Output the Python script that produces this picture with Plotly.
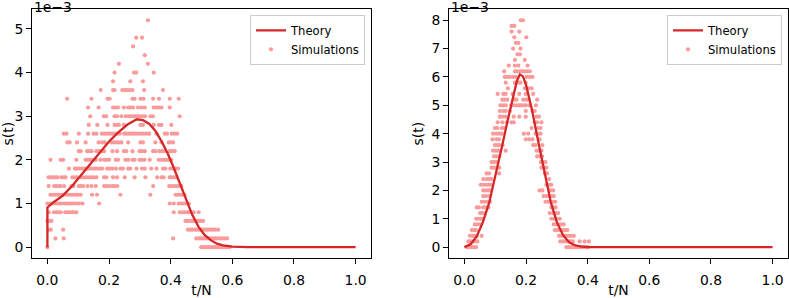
import plotly.graph_objects as go

# ---------------- data (s values in units of 1e-3) ----------------
theory1_t = [0.0, 0.0, 0.02, 0.05, 0.08, 0.11, 0.14, 0.17, 0.20, 0.23, 0.26, 0.29, 0.31, 0.33,
             0.35, 0.37, 0.39, 0.41, 0.43, 0.45, 0.47, 0.49, 0.51, 0.53, 0.55, 0.57, 0.60, 0.65, 1.0]
theory1_s = [0.0, 0.91, 1.03, 1.18, 1.40, 1.65, 1.91, 2.17, 2.42, 2.63, 2.81, 2.93, 2.91, 2.83,
             2.67, 2.43, 2.15, 1.82, 1.45, 1.08, 0.74, 0.47, 0.28, 0.16, 0.08, 0.04, 0.01, 0.0, 0.0]

theory2_t = [0.0, 0.02, 0.04, 0.06, 0.08, 0.10, 0.12, 0.14, 0.16, 0.17, 0.18, 0.19, 0.20, 0.22,
             0.24, 0.26, 0.28, 0.30, 0.32, 0.34, 0.36, 0.38, 0.40, 0.45, 1.0]
theory2_s = [0.0, 0.10, 0.38, 0.88, 1.55, 2.45, 3.45, 4.45, 5.45, 5.85, 6.09, 6.02, 5.72, 4.80,
             3.70, 2.58, 1.60, 0.88, 0.42, 0.17, 0.06, 0.02, 0.0, 0.0, 0.0]

sim1_levels = [5.2, 4.8, 4.6, 4.4, 4.2, 4.0, 3.8, 3.6, 3.4, 3.2, 3.0, 2.8, 2.6, 2.4, 2.2, 2.0,
               1.8, 1.6, 1.4, 1.2, 1.0, 0.8, 0.6, 0.4, 0.2, 0.0]
sim1_t_rows = [
    [0.326],
    [0.288, 0.307],
    [0.278],
    [0.316],
    [0.232, 0.326],
    [0.218, 0.281, 0.288, 0.345],
    [0.213, 0.269, 0.310],
    [0.173, 0.213, 0.218, 0.243, 0.251, 0.258, 0.267, 0.276, 0.314, 0.375],
    [0.064, 0.143, 0.195, 0.202, 0.276, 0.283, 0.302, 0.312, 0.343, 0.362, 0.397, 0.426],
    [0.132, 0.166, 0.213, 0.221, 0.229, 0.248, 0.262, 0.269, 0.278, 0.294, 0.305, 0.316, 0.345,
     0.354, 0.362, 0.370, 0.397],
    [0.139, 0.183, 0.191, 0.218, 0.226, 0.240, 0.254, 0.262, 0.269, 0.278, 0.285, 0.293, 0.299,
     0.308, 0.317, 0.334, 0.342, 0.429],
    [0.134, 0.162, 0.195, 0.218, 0.226, 0.232, 0.248, 0.302, 0.310, 0.345, 0.362, 0.370, 0.402],
    [0.053, 0.062, 0.102, 0.132, 0.150, 0.159, 0.177, 0.186, 0.195, 0.202, 0.210, 0.218, 0.226,
     0.235, 0.249, 0.256, 0.264, 0.270, 0.278, 0.286, 0.294, 0.302, 0.312, 0.321, 0.330, 0.354,
     0.381, 0.388, 0.404, 0.413, 0.421],
    [0.065, 0.072, 0.096, 0.124, 0.166, 0.177, 0.186, 0.208, 0.215, 0.224, 0.231, 0.240, 0.262,
     0.302, 0.310, 0.350, 0.370, 0.394, 0.400, 0.408],
    [0.102, 0.108, 0.129, 0.135, 0.143, 0.159, 0.166, 0.175, 0.184, 0.211, 0.226, 0.248, 0.256,
     0.276, 0.299, 0.307, 0.316, 0.343, 0.351, 0.364, 0.372, 0.381, 0.397, 0.404, 0.413],
    [0.010, 0.043, 0.051, 0.094, 0.124, 0.132, 0.139, 0.148, 0.157, 0.172, 0.184, 0.191, 0.200,
     0.222, 0.229, 0.253, 0.262, 0.276, 0.283, 0.299, 0.307, 0.315, 0.332, 0.361, 0.370, 0.377,
     0.386, 0.395, 0.402],
    [0.070, 0.089, 0.096, 0.105, 0.114, 0.121, 0.129, 0.137, 0.145, 0.154, 0.161, 0.170, 0.178,
     0.194, 0.202, 0.210, 0.222, 0.237, 0.245, 0.262, 0.269, 0.289, 0.307, 0.316, 0.337, 0.354,
     0.375, 0.383, 0.399, 0.408, 0.416, 0.424],
    [0.004, 0.011, 0.018, 0.026, 0.032, 0.045, 0.053, 0.059, 0.081, 0.089, 0.096, 0.110, 0.118,
     0.126, 0.135, 0.143, 0.150, 0.159, 0.184, 0.191, 0.213, 0.226, 0.251, 0.283, 0.318, 0.356,
     0.370, 0.377, 0.397, 0.402, 0.410, 0.418],
    [0.004, 0.022, 0.029, 0.037, 0.043, 0.054, 0.078, 0.085, 0.102, 0.108, 0.116, 0.130, 0.143,
     0.157, 0.184, 0.191, 0.200, 0.210, 0.218, 0.227, 0.343, 0.395, 0.402, 0.410, 0.418, 0.426,
     0.435],
    [0.010, 0.018, 0.026, 0.035, 0.043, 0.051, 0.062, 0.069, 0.076, 0.083, 0.092, 0.099, 0.108,
     0.145, 0.161, 0.237, 0.334, 0.416, 0.424, 0.431, 0.438, 0.445],
    [0.000, 0.008, 0.015, 0.021, 0.029, 0.038, 0.045, 0.054, 0.062, 0.070, 0.078, 0.085, 0.094,
     0.103, 0.114, 0.168, 0.397, 0.410, 0.426, 0.435, 0.443, 0.451, 0.459],
    [0.004, 0.021, 0.029, 0.037, 0.043, 0.058, 0.065, 0.072, 0.080, 0.086, 0.094, 0.410, 0.429,
     0.437, 0.445, 0.453, 0.459, 0.467, 0.475, 0.491],
    [0.000, 0.008, 0.013, 0.448, 0.454, 0.462, 0.469, 0.476, 0.483, 0.491, 0.497, 0.505],
    [0.004, 0.011, 0.051, 0.456, 0.464, 0.470, 0.478, 0.485, 0.492, 0.499, 0.507, 0.514, 0.521,
     0.529, 0.537, 0.545, 0.554],
    [0.026, 0.053, 0.408, 0.483, 0.491, 0.497, 0.505, 0.512, 0.519, 0.526, 0.535, 0.543, 0.550,
     0.559, 0.566, 0.575, 0.583],
    [0.000, 0.499, 0.507, 0.515, 0.523, 0.531, 0.539, 0.547, 0.555, 0.563, 0.571, 0.579, 0.587,
     0.591],
]

sim2_levels = [8.0, 7.8, 7.6, 7.4, 7.2, 7.0, 6.8, 6.6, 6.4, 6.2, 6.0, 5.8, 5.6, 5.4, 5.2, 5.0,
               4.8, 4.6, 4.4, 4.2, 4.0, 3.8, 3.6, 3.4, 3.2, 3.0, 2.8, 2.6, 2.4, 2.2, 2.0, 1.8,
               1.6, 1.4, 1.2, 1.0, 0.8, 0.6, 0.4, 0.2, 0.0]
sim2_t_rows = [
    [0.183, 0.190],
    [0.153, 0.162],
    [0.153, 0.178],
    [0.162, 0.201],
    [0.167, 0.175],
    [0.158, 0.182],
    [0.172, 0.180],
    [0.164, 0.196],
    [0.144, 0.164, 0.175, 0.205],
    [0.129, 0.164, 0.171, 0.180, 0.188, 0.195, 0.204, 0.212],
    [0.131, 0.139, 0.148, 0.158, 0.167, 0.202, 0.212, 0.221],
    [0.134, 0.164, 0.175, 0.182, 0.199],
    [0.141, 0.196, 0.207, 0.218],
    [0.108, 0.126, 0.134, 0.156, 0.178, 0.199, 0.223],
    [0.123, 0.130, 0.139, 0.162, 0.169, 0.191, 0.199, 0.205, 0.236],
    [0.117, 0.126, 0.134, 0.152, 0.160, 0.169, 0.178, 0.185, 0.193, 0.199, 0.210, 0.232],
    [0.115, 0.126, 0.134, 0.148, 0.199, 0.221, 0.228],
    [0.115, 0.123, 0.134, 0.160, 0.178, 0.199, 0.234, 0.242],
    [0.108, 0.123, 0.137, 0.153, 0.160, 0.228, 0.236, 0.250],
    [0.099, 0.107, 0.121, 0.128, 0.218, 0.239, 0.247],
    [0.093, 0.104, 0.113, 0.121, 0.193, 0.207, 0.231, 0.239, 0.247],
    [0.091, 0.104, 0.112, 0.199, 0.210, 0.221, 0.244],
    [0.099, 0.107, 0.113, 0.124, 0.223, 0.231, 0.253],
    [0.093, 0.102, 0.110, 0.134, 0.234, 0.242, 0.250],
    [0.096, 0.104, 0.113, 0.236, 0.244, 0.252],
    [0.088, 0.096, 0.104, 0.248, 0.255, 0.263],
    [0.088, 0.096, 0.104, 0.113, 0.250, 0.258, 0.266],
    [0.072, 0.080, 0.113, 0.261, 0.268],
    [0.061, 0.072, 0.080, 0.088, 0.275],
    [0.053, 0.061, 0.070, 0.078, 0.085, 0.266, 0.275, 0.282],
    [0.061, 0.070, 0.078, 0.085, 0.244, 0.253, 0.279, 0.288],
    [0.061, 0.070, 0.081, 0.257, 0.266, 0.275, 0.282, 0.290],
    [0.056, 0.064, 0.074, 0.083, 0.263, 0.272, 0.279, 0.288, 0.295],
    [0.040, 0.047, 0.061, 0.069, 0.078, 0.282, 0.290, 0.296],
    [0.051, 0.058, 0.067, 0.277, 0.288, 0.296, 0.304],
    [0.038, 0.045, 0.053, 0.061, 0.282, 0.290, 0.298, 0.309],
    [0.034, 0.042, 0.051, 0.290, 0.298, 0.307, 0.315, 0.322],
    [0.024, 0.031, 0.038, 0.293, 0.301, 0.309, 0.318, 0.325, 0.334],
    [0.018, 0.026, 0.032, 0.040, 0.056, 0.307, 0.315, 0.322, 0.331, 0.339, 0.347, 0.355],
    [0.013, 0.020, 0.027, 0.034, 0.042, 0.311, 0.320, 0.328, 0.336, 0.344, 0.352, 0.374,
     0.390, 0.404],
    [0.008, 0.015, 0.023, 0.030, 0.038, 0.331, 0.339, 0.347, 0.355, 0.363, 0.371, 0.379,
     0.387, 0.395, 0.401],
]

x_ticks = [0.0, 0.2, 0.4, 0.6, 0.8, 1.0]
x_tick_text = ["0.0", "0.2", "0.4", "0.6", "0.8", "1.0"]
y1_ticks = [0, 1, 2, 3, 4, 5]
y2_ticks = [0, 1, 2, 3, 4, 5, 6, 7, 8]


def flatten(levels, rows):
    xs, ys = [], []
    for lv, row in zip(levels, rows):
        for t in row:
            xs.append(t)
            ys.append(lv)
    return xs, ys


sim1_t, sim1_s = flatten(sim1_levels, sim1_t_rows)
sim2_t, sim2_s = flatten(sim2_levels, sim2_t_rows)

# ---------------- styling ----------------
FONT = "DejaVu Sans"
FS = 13.9
LFS = 11.6
LINE_C = "#d62728"
DOT_C = "#fa9a9a"
W, H = 789, 298

dom1 = [32 / W, 371 / W]
dom2 = [449 / W, 788 / W]
ydom = [1 - 262 / H, 1 - 9 / H]

fig = go.Figure()

fig.add_trace(go.Scatter(x=sim1_t, y=sim1_s, mode="markers", name="Simulations",
                         marker=dict(color=DOT_C, size=4.2, line=dict(width=0)),
                         xaxis="x", yaxis="y", legend="legend", legendrank=2))
fig.add_trace(go.Scatter(x=theory1_t, y=theory1_s, mode="lines", name="Theory",
                         line=dict(color=LINE_C, width=2.3),
                         xaxis="x", yaxis="y", legend="legend", legendrank=1))
fig.add_trace(go.Scatter(x=sim2_t, y=sim2_s, mode="markers", name="Simulations",
                         marker=dict(color=DOT_C, size=4.2, line=dict(width=0)),
                         xaxis="x2", yaxis="y2", legend="legend2", legendrank=2))
fig.add_trace(go.Scatter(x=theory2_t, y=theory2_s, mode="lines", name="Theory",
                         line=dict(color=LINE_C, width=2.3),
                         xaxis="x2", yaxis="y2", legend="legend2", legendrank=1))

axis_common = dict(showline=True, linecolor="black", linewidth=1, mirror=True,
                   ticks="outside", ticklen=5, tickwidth=1, tickcolor="black",
                   showgrid=False, zeroline=False,
                   tickfont=dict(family=FONT, size=FS, color="black"))

legend_common = dict(xanchor="right", yanchor="top", bgcolor="rgba(255,255,255,0.8)",
                     bordercolor="#cccccc", borderwidth=1,
                     font=dict(family=FONT, size=LFS, color="black"),
                     itemwidth=30, tracegroupgap=0)

fig.update_layout(
    width=W, height=H,
    margin=dict(l=0, r=0, t=0, b=0),
    paper_bgcolor="white", plot_bgcolor="white",
    font=dict(family=FONT, size=FS, color="black"),
    xaxis=dict(domain=dom1, range=[-0.05, 1.05], tickvals=x_ticks, ticktext=x_tick_text,
               anchor="y", ticklabelstandoff=4,
               title=dict(text="t/N", standoff=0, font=dict(size=FS)), **axis_common),
    yaxis=dict(domain=ydom, range=[-0.26, 5.46], tickvals=y1_ticks, anchor="x",
               title=dict(text="s(t)", standoff=4, font=dict(size=FS)), **axis_common),
    xaxis2=dict(domain=dom2, range=[-0.05, 1.05], tickvals=x_ticks, ticktext=x_tick_text,
                anchor="y2", ticklabelstandoff=4,
                title=dict(text="t/N", standoff=0, font=dict(size=FS)), **axis_common),
    yaxis2=dict(domain=ydom, range=[-0.4, 8.4], tickvals=y2_ticks, anchor="x2",
                title=dict(text="s(t)", standoff=4, font=dict(size=FS)), **axis_common),
    legend=dict(x=365 / W, y=1 - 15 / H, **legend_common),
    legend2=dict(x=782 / W, y=1 - 15 / H, **legend_common),
    showlegend=True,
    annotations=[
        dict(text="1e\u22123", x=dom1[0], y=1, xref="paper", yref="paper",
             xanchor="left", yanchor="top", showarrow=False, yshift=3,
             font=dict(family=FONT, size=FS, color="black")),
        dict(text="1e\u22123", x=dom2[0], y=1, xref="paper", yref="paper",
             xanchor="left", yanchor="top", showarrow=False, yshift=3,
             font=dict(family=FONT, size=FS, color="black")),
    ],
)

fig.write_html("out.html", config={"displayModeBar": False},
               post_script="document.body.style.margin='0px';document.body.style.overflow='hidden';")
